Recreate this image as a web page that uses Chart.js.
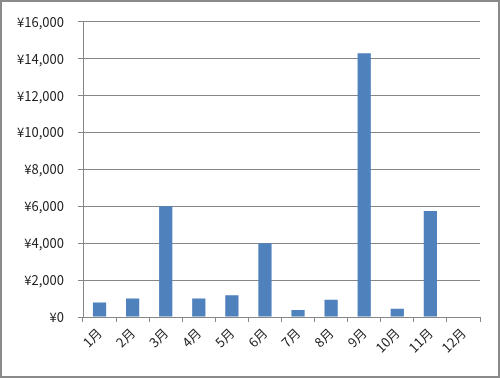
<!DOCTYPE html>
<html>
<head>
<meta charset="utf-8">
<script src="https://cdn.jsdelivr.net/npm/chart.js@4/dist/chart.umd.min.js"></script>
<style>
body{margin:0;background:#fff;}
#wrap{position:relative;width:500px;height:378px;}
</style>
</head>
<body>
<div id="wrap"><canvas id="myChart" width="500" height="378"></canvas></div>
<script>
// data
const months = ['1月','2月','3月','4月','5月','6月','7月','8月','9月','10月','11月','12月'];
const sales = [780, 1000, 6000, 1000, 1180, 4000, 380, 930, 14300, 450, 5750, 0];
const yTicks = [0, 2000, 4000, 6000, 8000, 10000, 12000, 14000, 16000];

const gray = '#868686';
const font = {family: '"Noto Sans CJK JP", sans-serif', size: 13};

// outer frame
const frame = {
    id: 'frame',
    afterDraw(chart) {
        const c = chart.ctx;
        c.save();
        c.strokeStyle = '#8a8a8a';
        c.lineWidth = 2;
        c.strokeRect(1, 1, 498, 376);
        c.restore();
    }
};

const ctx = document.getElementById('myChart').getContext('2d');
const myChart = new Chart(ctx, {
    type: 'bar',
    data: {
        labels: months,
        datasets: [{
            data: sales,
            backgroundColor: '#4F81BD',
            barPercentage: 0.4,
            categoryPercentage: 1
        }]
    },
    options: {
        responsive: false,
        animation: false,
        layout: {padding: {top: 18, right: 20, left: 0, bottom: 0}},
        plugins: {legend: {display: false}, tooltip: {enabled: false}},
        scales: {
            x: {
                grid: {drawOnChartArea: false, color: gray, tickLength: 5, tickColor: gray},
                border: {color: gray},
                ticks: {color: '#222', font: font, maxRotation: 45, minRotation: 45, padding: 3},
                afterFit(s) { s.height = 61; }
            },
            y: {
                min: 0,
                max: 16000,
                afterBuildTicks(s) { s.ticks = yTicks.map(v => ({value: v})); },
                grid: {color: gray, tickLength: 5, tickColor: gray},
                border: {color: gray},
                ticks: {
                    color: '#222',
                    font: font,
                    padding: 14,
                    callback: v => '¥' + v.toLocaleString('en-US')
                },
                afterFit(s) { s.width = 83; }
            }
        }
    },
    plugins: [frame]
});
</script>
</body>
</html>
